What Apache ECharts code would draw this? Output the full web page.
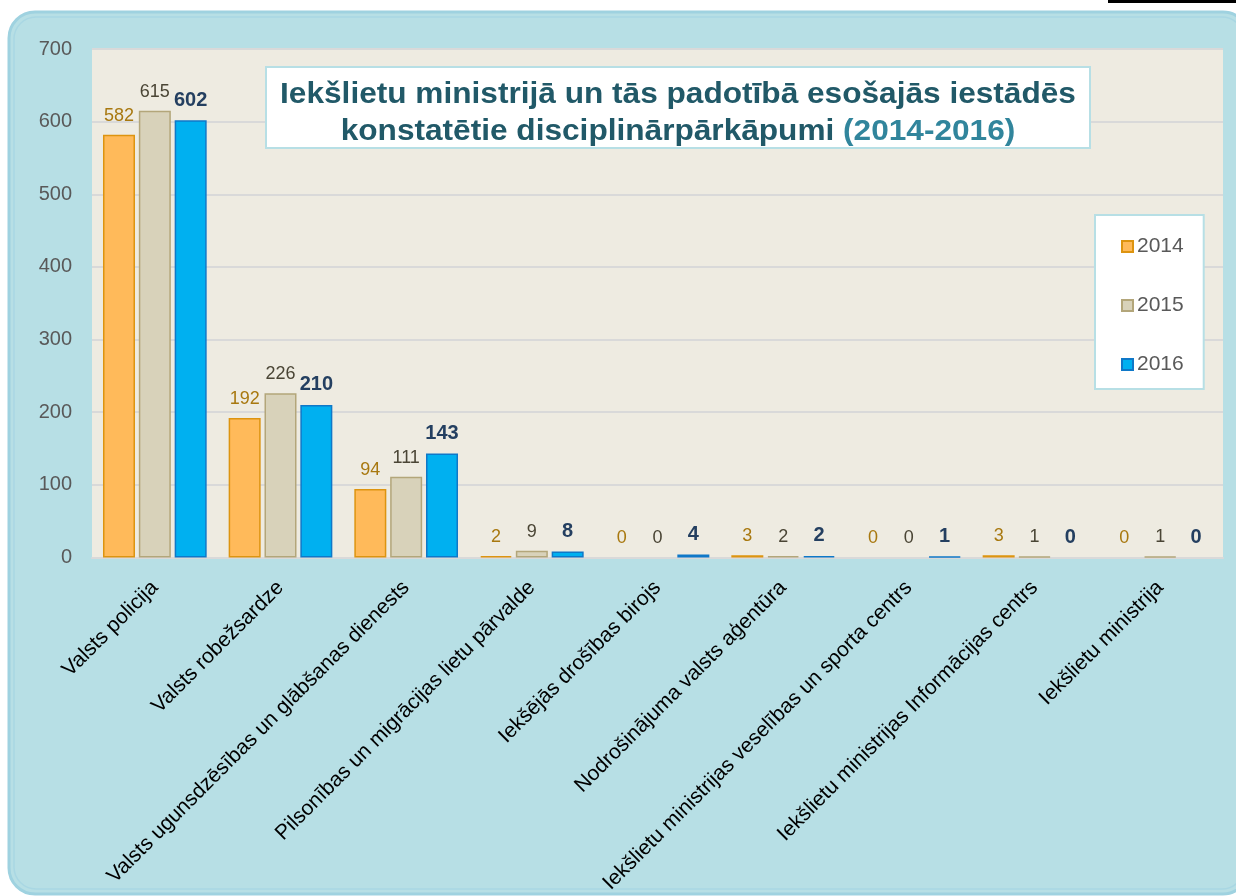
<!DOCTYPE html>
<html>
<head>
<meta charset="utf-8">
<script src="https://cdn.jsdelivr.net/npm/echarts@6/dist/echarts.min.js"></script>
<style>
html,body{margin:0;padding:0;background:#ffffff;}
#chart{width:1236px;height:896px;}
</style>
</head>
<body>
<div id="chart"></div>
<script>
const categories = [
  'Valsts policija',
  'Valsts robežsardze',
  'Valsts ugunsdzēsības un glābšanas dienests',
  'Pilsonības un migrācijas lietu pārvalde',
  'Iekšējās drošības birojs',
  'Nodrošinājuma valsts aģentūra',
  'Iekšlietu ministrijas veselības un sporta centrs',
  'Iekšlietu ministrijas Informācijas centrs',
  'Iekšlietu ministrija'
];
const values2014 = [582, 192, 94, 2, 0, 3, 0, 3, 0];
const values2015 = [615, 226, 111, 9, 0, 2, 0, 1, 1];
const values2016 = [602, 210, 143, 8, 4, 2, 1, 0, 0];
const seriesNames = ['2014', '2015', '2016'];
const yTicks = [0, 100, 200, 300, 400, 500, 600, 700];
const titleLine1 = 'Iekšlietu ministrijā un tās padotībā esošajās iestādēs';
const titleLine2a = 'konstatētie disciplinārpārkāpumi ';
const titleLine2b = '(2014-2016)';

const chart = echarts.init(document.getElementById('chart'), null, {renderer: 'canvas'});
const FONT = '"Liberation Sans", Arial, sans-serif';

function barSeries(name, data, fill, border, labelColor, bold, size) {
  return {
    name: name,
    type: 'bar',
    data: data.map(function (v) { return v === 0 ? {value: v, itemStyle: {borderWidth: 0}} : v; }),
    barWidth: 32,
    barGap: '12%',
    itemStyle: {color: fill, borderColor: border, borderWidth: 1.5},
    label: {
      show: true, position: 'top', distance: 10,
      color: labelColor, fontFamily: FONT, fontSize: size,
      fontWeight: bold ? 'bold' : 'normal'
    },
    z: 3
  };
}

chart.setOption({
  backgroundColor: '#ffffff',
  animation: false,
  graphic: [
    {type: 'rect', z: -10, shape: {x: 9, y: 12, width: 1240, height: 882, r: 26},
     style: {fill: '#B7DFE5', stroke: '#9FD2E0', lineWidth: 3}},
    {type: 'rect', z: -9, shape: {x: 14, y: 17, width: 1230, height: 872, r: 22},
     style: {fill: 'none', stroke: '#A9D7E3', lineWidth: 1.5}},
    {type: 'rect', z: -9, shape: {x: 1108, y: -2, width: 130, height: 5},
     style: {fill: '#000000'}},
    {type: 'rect', z: 20, shape: {x: 266, y: 67, width: 824, height: 81},
     style: {fill: '#ffffff', stroke: '#B7DFE5', lineWidth: 2}},
    {type: 'text', z: 21, x: 678, y: 113, scaleX: 1.09,
     style: {
       text: '{a|' + titleLine1 + '}\n{a|' + titleLine2a + '}{b|' + titleLine2b + '}',
       align: 'center', verticalAlign: 'middle',
       rich: {
         a: {fontFamily: FONT, fontSize: 29, fontWeight: 'bold', fill: '#215968', lineHeight: 37},
         b: {fontFamily: FONT, fontSize: 29, fontWeight: 'bold', fill: '#31859C', lineHeight: 37}
       }
     }}
  ],
  legend: {
    orient: 'vertical',
    left: 1095, top: 215,
    backgroundColor: '#ffffff',
    borderColor: '#B7DFE5', borderWidth: 2,
    padding: [21, 20, 14, 26],
    itemGap: 38,
    itemWidth: 11, itemHeight: 11,
    icon: 'rect',
    textStyle: {fontFamily: FONT, fontSize: 21, color: '#595959', padding: [0, 0, 0, -1]},
    data: seriesNames
  },
  grid: {
    left: 92, right: 13, top: 49, bottom: 337,
    show: true, backgroundColor: '#EEEBE1', borderWidth: 0
  },
  xAxis: {
    type: 'category',
    data: categories,
    axisLine: {show: true, lineStyle: {color: '#D9D9D9', width: 2}},
    axisTick: {show: false},
    axisLabel: {interval: 0, rotate: 45, fontFamily: FONT, fontSize: 21, color: '#000000', margin: 27}
  },
  yAxis: {
    type: 'value',
    min: yTicks[0], max: yTicks[yTicks.length - 1], interval: 100,
    axisLine: {show: false},
    axisTick: {show: false},
    splitLine: {lineStyle: {color: '#D9D9D9', width: 2}},
    axisLabel: {fontFamily: FONT, fontSize: 20, color: '#595959', margin: 20}
  },
  series: [
    barSeries(seriesNames[0], values2014, '#FFBA5A', '#DD9410', '#A8780F', false, 18),
    barSeries(seriesNames[1], values2015, '#D8D2BA', '#B3A67A', '#4A4535', false, 18),
    barSeries(seriesNames[2], values2016, '#00B0F0', '#0F78C8', '#243F60', true, 20)
  ]
});
</script>
</body>
</html>
